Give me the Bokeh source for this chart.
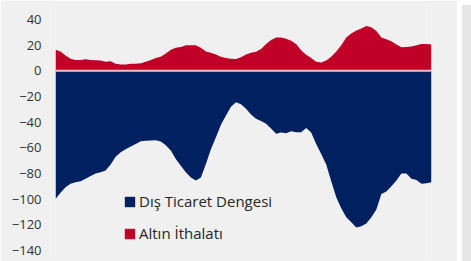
from bokeh.plotting import figure
from bokeh.models import Range1d, FixedTicker, Legend, LegendItem, Span, Div
from bokeh.layouts import row
from bokeh.embed import file_html
from bokeh.resources import INLINE

# Data
gold = [16.4, 15, 12, 9.5, 8.5, 8.5, 9, 8.5, 8.3, 8, 7, 7.5, 5.5, 5, 5, 5.5, 5.5, 6, 7, 8.5,
        10, 11, 13.5, 16.4, 18, 18.5, 20, 20, 20, 18, 15, 14, 12.7, 11, 10, 9.5, 9.3, 10.5, 12.7, 14,
        14.8, 17, 21, 24, 26, 26, 25, 23.5, 21, 16, 12.5, 10, 7, 6.5, 8, 11, 15, 20, 26, 29,
        31.4, 33, 35, 34, 31, 26, 24.6, 23, 20.5, 18.4, 18.5, 19, 20, 21, 21, 20.5]
trade = [-99.8, -95, -90.7, -88, -86.8, -86, -84, -82, -80, -79, -77.7, -73, -67, -63.4, -61, -59, -57, -54.8, -54.5, -54.3,
         -54, -55, -58, -62, -68.6, -74, -79, -83, -85.5, -83, -72.5, -61, -51.7, -42, -34.8, -28, -24.5, -26, -29.6, -34,
         -37.4, -39, -41.3, -45, -49, -48, -48.6, -47, -47.8, -47.8, -44.5, -48, -57, -64.7, -73, -86, -98.5, -107, -114, -118,
         -122, -121, -119, -114, -108, -96, -94, -90, -85.5, -80, -80, -84, -85, -88, -87.5, -86.8]
x = list(range(len(gold)))
y_ticks = [-140, -120, -100, -80, -60, -40, -20, 0, 20, 40]
labels = ["Dış Ticaret Dengesi", "Altın İthalatı"]

BG = "#f0f0f0"
RED = "#c00027"
NAVY = "#002060"

p = figure(width=457, height=261, output_backend="svg", toolbar_location=None,
           x_axis_type=None, x_range=Range1d(0, len(x) - 1), y_range=Range1d(-146.2, 50.9),
           min_border_left=55, min_border_right=26, min_border_top=5, min_border_bottom=3)
p.background_fill_color = BG
p.border_fill_color = BG
p.outline_line_color = None
p.grid.visible = False

r_trade = p.varea(x=x, y1=0, y2=trade, fill_color=NAVY)
r_gold = p.varea(x=x, y1=0, y2=gold, fill_color=RED)
p.add_layout(Span(location=0, dimension="width", line_color="#f3c2c8", line_width=2))

ax = p.yaxis[0]
ax.ticker = FixedTicker(ticks=y_ticks)
ax.axis_line_color = None
ax.major_tick_line_color = None
ax.minor_tick_line_color = None
ax.major_tick_out = 0
ax.major_label_standoff = 14
ax.major_label_text_font = "Open Sans"
ax.major_label_text_font_size = "13px"
ax.major_label_text_color = "#333333"

legend = Legend(items=[LegendItem(label=labels[0], renderers=[r_trade]),
                       LegendItem(label=labels[1], renderers=[r_gold])],
                location=(68, 15), orientation="vertical")
legend.background_fill_alpha = 0
legend.border_line_color = None
legend.padding = 0
legend.margin = 0
legend.spacing = 12
legend.glyph_width = 13
legend.glyph_height = 13
legend.label_height = 12
legend.label_standoff = 3
legend.label_text_font = "Open Sans"
legend.label_text_font_size = "15px"
legend.label_text_color = "#262626"
p.add_layout(legend, "center")

strip = Div(width=14, height=261, styles={"background-color": "#e6e6e6"})
layout = row(p, strip, spacing=0)

open("out.html", "w").write(file_html(layout, INLINE))
